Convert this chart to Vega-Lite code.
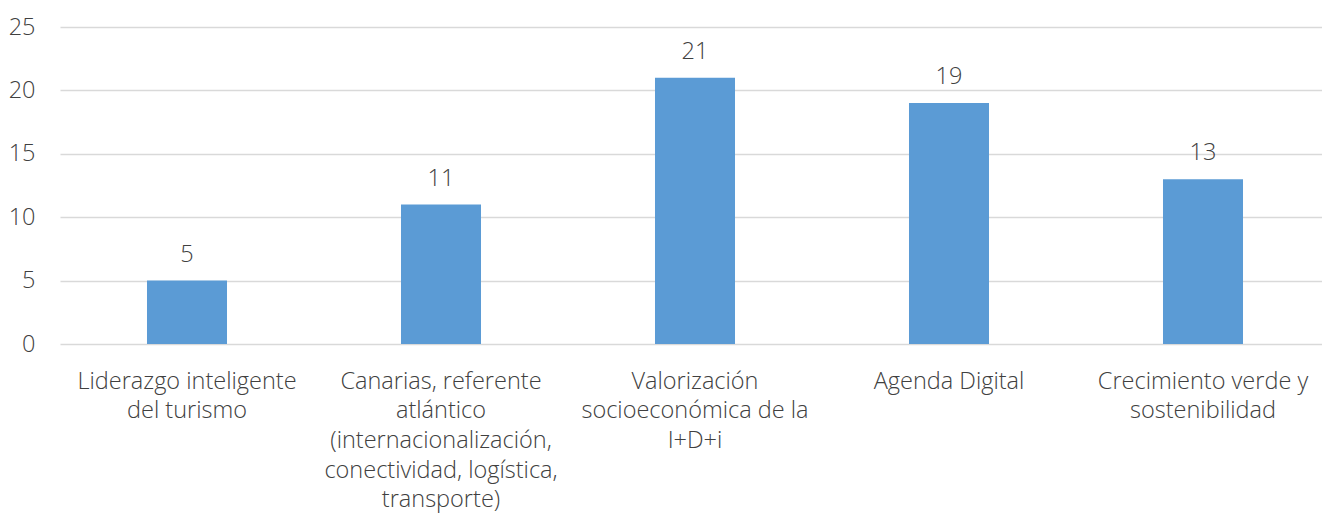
{
  "$schema": "https://vega.github.io/schema/vega-lite/v6.json",
  "autosize": "none",
  "width": 1270,
  "height": 317,
  "padding": {"left": 60, "top": 27, "right": 0, "bottom": 176},
  "background": "white",
  "config": {
    "view": {"stroke": null},
    "font": "Open Sans"
  },
  "data": {
    "values": [
      {"cat": "Liderazgo inteligente|del turismo", "value": 5},
      {"cat": "Canarias, referente|atlántico|(internacionalización,|conectividad, logística,|transporte)", "value": 11},
      {"cat": "Valorización|socioeconómica de la|I+D+i", "value": 21},
      {"cat": "Agenda Digital", "value": 19},
      {"cat": "Crecimiento verde y|sostenibilidad", "value": 13}
    ]
  },
  "encoding": {
    "x": {
      "field": "cat",
      "type": "nominal",
      "sort": null,
      "scale": {"paddingInner": 0.685, "paddingOuter": 0.3425},
      "axis": {
        "title": null,
        "labelAngle": 0,
        "labelExpr": "split(datum.label, '|')",
        "labelFont": "Open Sans",
        "labelFontWeight": 300,
        "labelFontSize": 23.5,
        "labelColor": "#404040",
        "labelLineHeight": 29.7,
        "labelPadding": 25,
        "labelLimit": 320,
        "ticks": false,
        "domain": false
      }
    },
    "y": {
      "field": "value",
      "type": "quantitative",
      "scale": {"domain": [0, 25], "nice": false},
      "axis": {
        "title": null,
        "values": [0, 5, 10, 15, 20, 25],
        "labelFont": "Open Sans",
        "labelFontWeight": 300,
        "labelFontSize": 23.5,
        "labelColor": "#404040",
        "labelPadding": 25,
        "ticks": false,
        "domain": false,
        "gridColor": "#d9d9d9",
        "gridWidth": 1.5
      }
    }
  },
  "layer": [
    {"mark": {"type": "bar", "color": "#5b9bd5"}},
    {
      "mark": {
        "type": "text",
        "baseline": "alphabetic",
        "dy": -19,
        "fontSize": 23.5,
        "fontWeight": 300,
        "font": "Open Sans",
        "color": "#404040"
      },
      "encoding": {"text": {"field": "value", "type": "quantitative"}}
    }
  ]
}
